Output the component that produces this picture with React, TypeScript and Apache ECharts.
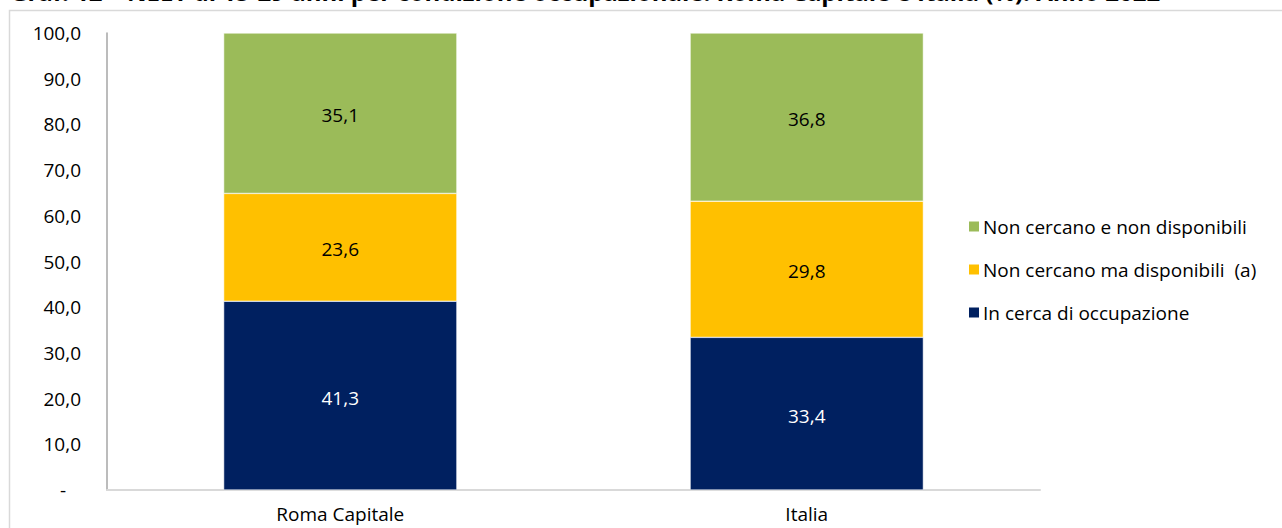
import React, { useEffect, useRef } from "react";
import * as echarts from "echarts";

const categories = ["Roma Capitale", "Italia"];
const inCerca = [41.3, 33.4];
const nonCercanoDisp = [23.6, 29.8];
const nonCercanoNonDisp = [35.1, 36.8];
const seriesNames = [
  "In cerca di occupazione",
  "Non cercano ma disponibili  (a)",
  "Non cercano e non disponibili",
];
const colors = ["#002060", "#FFC000", "#9BBB59"];
const titleText =
  "Graf. 12 – NEET di 15-29 anni per condizione occupazionale. Roma Capitale e Italia (%). Anno 2022";

const FONT = "'Open Sans', 'Noto Sans', sans-serif";

export default function App() {
  const ref = useRef<HTMLDivElement>(null);
  useEffect(() => {
    if (!ref.current) return;
    const chart = echarts.init(ref.current, null, { renderer: "svg" });
    const fmt = (v: number) => v.toFixed(1).replace(".", ",");
    const data = [inCerca, nonCercanoDisp, nonCercanoNonDisp];
    chart.setOption({
      animation: false,
      backgroundColor: "#ffffff",
      textStyle: { fontFamily: FONT },
      graphic: [
        {
          type: "rect",
          shape: { x: 9.5, y: 10.5, width: 1300, height: 600 },
          style: { fill: "none", stroke: "#d9d9d9", lineWidth: 1.5 },
          silent: true,
        },
        {
          type: "text",
          left: 10,
          top: -21,
          style: {
            text: titleText,
            font: `bold 24px ${FONT}`,
            fill: "#000",
          },
        },
      ],
      legend: {
        orient: "vertical",
        left: 962,
        top: 212,
        itemWidth: 12,
        itemHeight: 12,
        itemGap: 24,
        icon: "rect",
        data: [seriesNames[2], seriesNames[1], seriesNames[0]],
        textStyle: { fontSize: 19, color: "#000", fontFamily: FONT, padding: [0, 0, 0, -2] },
      },
      grid: { left: 107, top: 33, width: 933, height: 457, containLabel: false },
      xAxis: {
        type: "category",
        data: categories,
        axisLine: { lineStyle: { color: "#d9d9d9", width: 2 } },
        axisTick: { show: false },
        axisLabel: { fontSize: 19, color: "#000", margin: 14 },
      },
      yAxis: {
        type: "value",
        min: 0,
        max: 100,
        interval: 10,
        splitLine: { show: false },
        axisLine: { show: true, lineStyle: { color: "#a6a6a6", width: 1.5 } },
        axisTick: { show: false },
        axisLabel: {
          fontSize: 19,
          color: "#000",
          margin: 26,
          formatter: (v: number) => (v === 0 ? "-   " : fmt(v)),
        },
      },
      series: data.map((d, i) => ({
        name: seriesNames[i],
        type: "bar",
        stack: "tot",
        barWidth: "50%",
        data: d,
        itemStyle: { color: colors[i], borderColor: "#ffffff", borderWidth: 0.5 },
        label: {
          show: true,
          position: "inside",
          offset: [0, 2],
          fontSize: 19,
          color: i === 0 ? "#ffffff" : "#000000",
          formatter: (p: any) => fmt(p.value),
        },
      })),
    });
    return () => chart.dispose();
  }, []);
  return (
    <div
      ref={ref}
      style={{ position: "absolute", left: 0, top: 0, width: 1282, height: 528 }}
    />
  );
}
